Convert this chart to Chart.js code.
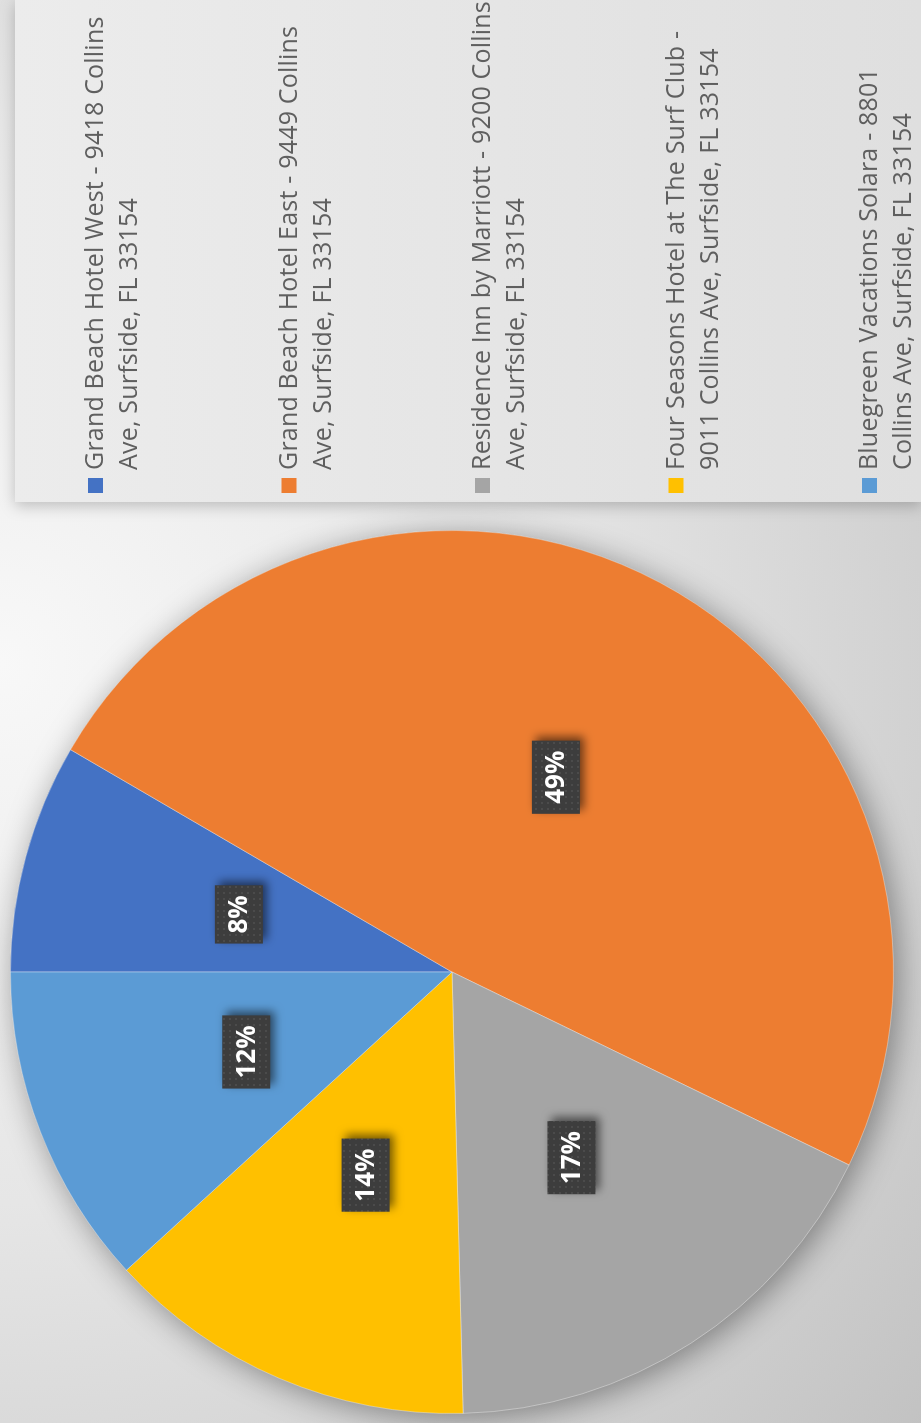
<!DOCTYPE html>
<html>
<head>
<meta charset="utf-8">
<script src="https://cdn.jsdelivr.net/npm/chart.js@4.4.1/dist/chart.umd.min.js"></script>
<style>
  html, body { margin: 0; padding: 0; width: 921px; height: 1423px; overflow: hidden; background: #dcdcdc; }
  /* the chart is laid out landscape and turned a quarter to the left */
  #sheet {
    position: absolute; left: 0; top: 0; width: 1423px; height: 921px;
    transform-origin: 0 0; transform: translate(0px, 1423px) rotate(-90deg);
  }
</style>
</head>
<body>
<div id="sheet"><canvas id="pie" width="1423" height="921"></canvas></div>
<script>
const hotels = [
    ['Grand Beach Hotel West - 9418 Collins', 'Ave, Surfside, FL 33154'],
    ['Grand Beach Hotel East - 9449 Collins', 'Ave, Surfside, FL 33154'],
    ['Residence Inn by Marriott - 9200 Collins', 'Ave, Surfside, FL 33154'],
    ['Four Seasons Hotel at The Surf Club -', '9011 Collins Ave, Surfside, FL 33154'],
    ['Bluegreen Vacations Solara - 8801', 'Collins Ave, Surfside, FL 33154']
];
const shares = [8.4, 48.8, 17.4, 13.6, 11.8];
const sliceColors = ['#4472C4', '#ED7D31', '#A5A5A5', '#FFC000', '#5B9BD5'];

// little dotted texture used behind the percentage labels
const dots = document.createElement('canvas');
dots.width = 6; dots.height = 6;
const dctx = dots.getContext('2d');
dctx.fillStyle = '#3d3d3d';
dctx.fillRect(0, 0, 6, 6);
dctx.fillStyle = '#4b4b4b';
dctx.fillRect(1, 1, 2, 2);

const backdrop = {
    id: 'backdrop',
    beforeDraw(chart) {
        const ctx = chart.ctx;
        const w = chart.width, h = chart.height;
        ctx.save();
        const g = ctx.createRadialGradient(760, 0, 0, 760, 0, 1200);
        g.addColorStop(0, '#f8f8f8');
        g.addColorStop(0.45, '#e6e6e6');
        g.addColorStop(1, '#c2c2c2');
        ctx.fillStyle = g;
        ctx.fillRect(0, 0, w, h);

        // legend panel
        ctx.shadowColor = 'rgba(0,0,0,0.22)';
        ctx.shadowBlur = 14;
        ctx.shadowOffsetX = -4;
        const pg = ctx.createLinearGradient(0, 15, 0, h);
        pg.addColorStop(0, '#ececec');
        pg.addColorStop(1, '#dfdfdf');
        ctx.fillStyle = pg;
        ctx.fillRect(921, 15, w - 921, h - 15);
        ctx.restore();
    },
    beforeDatasetsDraw(chart) {
        const arc = chart.getDatasetMeta(0).data[0];
        if (!arc) return;
        const ctx = chart.ctx;
        ctx.save();
        ctx.shadowColor = 'rgba(0,0,0,0.4)';
        ctx.shadowBlur = 32;
        ctx.shadowOffsetX = -5;
        ctx.shadowOffsetY = 5;
        ctx.fillStyle = '#9a9a9a';
        ctx.beginPath();
        ctx.arc(arc.x, arc.y, arc.outerRadius, 0, Math.PI * 2);
        ctx.fill();
        ctx.restore();
    },
    afterDatasetsDraw(chart) {
        const ctx = chart.ctx;
        const values = chart.data.datasets[0].data;
        const total = values.reduce((a, b) => a + b, 0);
        const pattern = ctx.createPattern(dots, 'repeat');
        ctx.save();
        ctx.font = 'bold 26px "Open Sans"';
        ctx.textAlign = 'center';
        ctx.textBaseline = 'middle';
        chart.getDatasetMeta(0).data.forEach((arc, i) => {
            const p = arc.tooltipPosition();
            const text = Math.round(values[i] / total * 100) + '%';
            const bw = ctx.measureText(text).width + 20;
            const bh = 48;
            ctx.save();
            ctx.shadowColor = 'rgba(0,0,0,0.55)';
            ctx.shadowBlur = 10;
            ctx.shadowOffsetX = 4;
            ctx.shadowOffsetY = 4;
            ctx.fillStyle = pattern;
            ctx.fillRect(p.x - bw / 2, p.y - bh / 2, bw, bh);
            ctx.restore();
            ctx.fillStyle = '#ffffff';
            ctx.fillText(text, p.x, p.y + 1);
        });
        ctx.restore();
    },
    afterDraw(chart) {
        const ctx = chart.ctx;
        const colors = chart.data.datasets[0].backgroundColor;
        ctx.save();
        ctx.font = '25px "Open Sans"';
        ctx.letterSpacing = '0.2px';
        ctx.textBaseline = 'alphabetic';
        chart.data.labels.forEach((lines, i) => {
            const base = 103 + i * 193.5;
            ctx.fillStyle = colors[i];
            ctx.fillRect(930, base - 15, 15, 15);
            ctx.fillStyle = '#5f5f5f';
            lines.forEach((t, j) => ctx.fillText(t, 953, base + j * 34));
        });
        ctx.restore();
    }
};

new Chart(document.getElementById('pie'), {
    type: 'pie',
    data: {
        labels: hotels,
        datasets: [{
            data: shares,
            backgroundColor: sliceColors,
            borderColor: 'rgba(255,255,255,0.35)',
            borderWidth: 1
        }]
    },
    options: {
        responsive: false,
        animation: false,
        layout: {
            padding: { left: 9, top: 10, right: 530, bottom: 27 }
        },
        plugins: {
            legend: { display: false },
            tooltip: { enabled: false }
        }
    },
    plugins: [backdrop]
});
</script>
</body>
</html>
